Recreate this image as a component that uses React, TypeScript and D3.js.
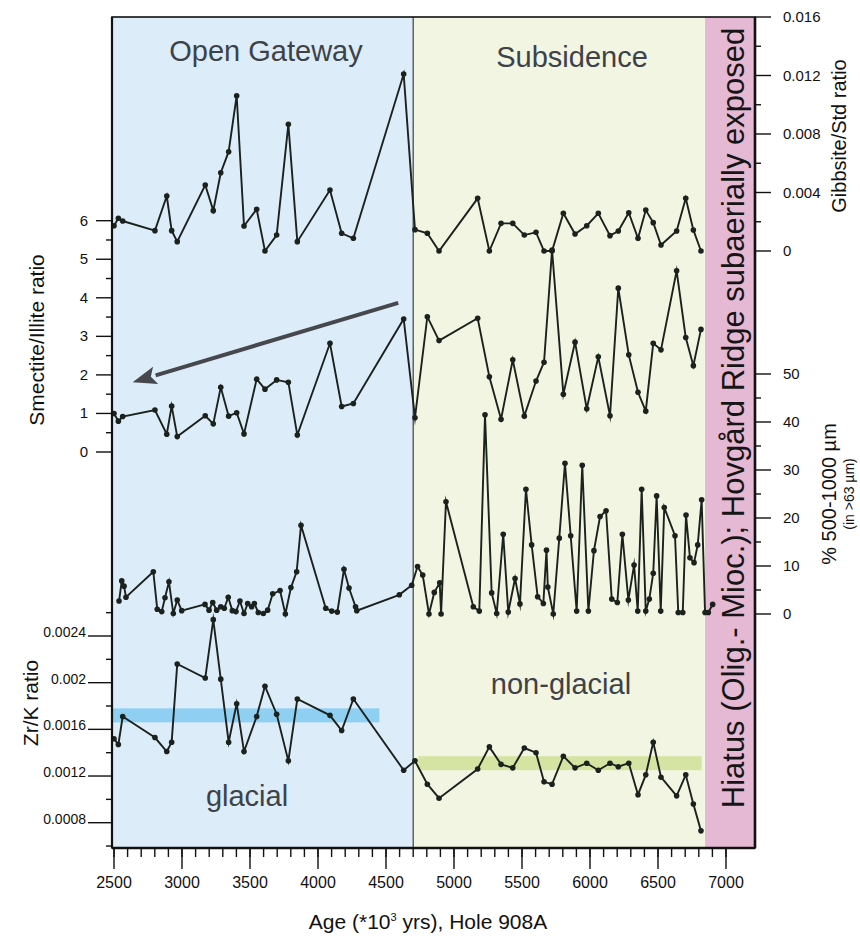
import React from "react";
import * as d3 from "d3";

// Sample ages (ka) shared by the clay-mineral and XRF records
const ages = [
  2500, 2532, 2564, 2801, 2888, 2924, 2965, 3171, 3230, 3285, 3343, 3402, 3456, 3549, 3610, 3696,
  3782, 3848, 4088, 4174, 4260, 4630, 4713, 4804, 4890, 5174, 5260, 5346, 5432, 5517, 5603, 5662,
  5721, 5804, 5890, 5976, 6061, 6147, 6208, 6285, 6353, 6410, 6465, 6522, 6637, 6704, 6760, 6816,
];

const gibbsiteStd = [
  0.00173, 0.00224, 0.00205, 0.00139, 0.00376, 0.00139, 0.00064, 0.00451, 0.00276, 0.00535, 0.00679,
  0.01062, 0.00171, 0.00285, 0.0, 0.00109, 0.00866, 0.00064, 0.00417, 0.00121, 0.00087, 0.0121,
  0.00146, 0.00121, 0.0, 0.0036, 0.0, 0.00189, 0.00189, 0.00109, 0.00128, 0.0, 0.0, 0.00258, 0.00116,
  0.00173, 0.00258, 0.00105, 0.00137, 0.00262, 0.00087, 0.0028, 0.00194, 0.00041, 0.00137, 0.0036,
  0.00144, 0.0,
];

const smectiteIllite = [
  1.0, 0.8, 0.92, 1.09, 0.46, 1.19, 0.4, 0.94, 0.73, 1.68, 0.93, 1.02, 0.47, 1.89, 1.63, 1.87, 1.81,
  0.44, 2.82, 1.18, 1.26, 3.45, 0.89, 3.51, 2.89, 3.47, 1.95, 0.85, 2.39, 0.93, 1.84, 2.33, 5.24, 1.5,
  2.85, 1.12, 2.47, 0.94, 4.25, 2.52, 1.55, 1.06, 2.82, 2.65, 4.7, 2.97, 2.24, 3.18,
];

const zrK = [
  0.00152, 0.00147, 0.00171, 0.00153, 0.00141, 0.00149, 0.00216, 0.00204, 0.00254, 0.00203, 0.00149,
  0.00182, 0.00141, 0.00171, 0.00197, 0.00173, 0.00133, 0.00186, 0.00172, 0.00159, 0.00186, 0.00125,
  0.00133, 0.00113, 0.00101, 0.00126, 0.00145, 0.0013, 0.00127, 0.00144, 0.0014, 0.00115, 0.00113,
  0.00137, 0.00127, 0.00131, 0.00125, 0.00131, 0.00128, 0.00131, 0.00104, 0.00121, 0.00149, 0.00119,
  0.00103, 0.00121, 0.00096, 0.00073,
];

// Coarse fraction (500-1000 µm, % of >63 µm) on its own, denser age grid
const coarseAges = [
  2537, 2557, 2574, 2588, 2789, 2818, 2851, 2875, 2904, 2936, 2965, 2998, 3169, 3199, 3226, 3255,
  3285, 3311, 3340, 3370, 3397, 3426, 3456, 3483, 3512, 3532, 3561, 3598, 3630, 3667, 3721, 3760,
  3801, 3843, 3875, 4057, 4101, 4142, 4191, 4228, 4276, 4285, 4598, 4689, 4732, 4770, 4816, 4855,
  4895, 4905, 4941, 5142, 5186, 5228, 5277, 5314, 5362, 5399, 5449, 5485, 5529, 5571, 5615, 5657,
  5680, 5690, 5730, 5774, 5816, 5858, 5902, 5943, 5988, 6029, 6074, 6118, 6160, 6201, 6238, 6282,
  6324, 6351, 6380, 6410, 6436, 6465, 6490, 6520, 6546, 6625, 6649, 6682, 6706, 6735, 6765, 6792,
  6821, 6846, 6870, 6902,
];
const coarsePct = [
  2.7, 6.9, 5.8, 3.5, 8.8, 1.0, 0.5, 3.4, 6.7, 0.1, 2.9, 0.7, 2.0, 0.8, 2.4, 0.8, 1.5, 1.2, 3.5, 0.7,
  0.5, 2.7, 0.1, 2.2, 1.5, 2.2, 0.3, 0.1, 0.8, 4.2, 4.9, 0.0, 5.5, 8.8, 18.5, 1.2, 0.6, 0.4, 9.3, 5.4,
  1.5, 0.7, 4.0, 6.0, 9.9, 8.1, 0.0, 4.5, 6.5, 0.0, 23.4, 1.5, 0.6, 41.5, 4.4, 0.1, 16.6, 0.4, 7.4, 2.1,
  26.0, 14.4, 3.6, 2.2, 13.3, 5.6, 0.0, 15.8, 31.4, 16.3, 0.6, 31.0, 0.6, 13.2, 20.3, 21.5, 3.1, 2.4,
  16.6, 2.9, 10.2, 0.6, 26.0, 0.6, 3.1, 8.5, 24.6, 0.6, 22.2, 16.3, 0.3, 0.3, 20.6, 11.7, 10.7, 14.4,
  23.8, 0.3, 0.3, 2.0,
];

// Mean Zr/K bands: [startAge, endAge, low, high]
const glacialBand = [2500, 4451, 0.00166, 0.00178];
const nonGlacialBand = [4737, 6821, 0.00125, 0.00137];

// Interval boundaries (ka)
const gatewayEnd = 4700;
const hiatusStart = 6846;

// Trend arrow on the smectite/illite record: [age, ratio] from tail to head
const trendArrow = [
  [4590, 3.87],
  [2637, 1.81],
];

const xTicksMajor = d3.range(2500, 7001, 500);
const xTicksMinor = d3.range(2500, 7001, 100);
const smeTicks = [0, 1, 2, 3, 4, 5, 6];
const zrTicks = [0.0008, 0.0012, 0.0016, 0.002, 0.0024];
const zrTickLabels = ["0.0008", "0.0012", "0.0016", "0.002", "0.0024"];
const gibTicks = [0, 0.004, 0.008, 0.012, 0.016];
const gibTickLabels = ["0", "0.004", "0.008", "0.012", "0.016"];
const pctTicks = [0, 10, 20, 30, 40, 50];

const W = 860;
const H = 943;
const F = { left: 112, right: 755, top: 17, bottom: 848 };
const INK = "#1b211d";
const SANS = "'Liberation Sans', Arial, Helvetica, sans-serif";

const x = d3.scaleLinear().domain([2500, 7000]).range([114, 726]);
const yGib = d3.scaleLinear().domain([0, 0.016]).range([251, 17]);
const ySme = d3.scaleLinear().domain([0, 6]).range([452, 220.7]);
const yPct = d3.scaleLinear().domain([0, 50]).range([614, 374]);
const yZr = d3.scaleLinear().domain([0.0008, 0.0024]).range([822.7, 636]);

function Series({ xs, ys, y }: { xs: number[]; ys: number[]; y: d3.ScaleLinear<number, number> }) {
  const pts: [number, number][] = xs.map((a, i) => [a, ys[i]]);
  const line = d3
    .line<[number, number]>()
    .x((d) => x(d[0]))
    .y((d) => y(d[1]));
  return (
    <g>
      <path
        d={line(pts) || ""}
        fill="none"
        stroke={INK}
        strokeWidth={1.9}
        strokeLinejoin="miter"
        strokeMiterlimit={9}
      />
      {pts.map((d, i) => (
        <circle key={i} cx={x(d[0])} cy={y(d[1])} r={2.8} fill={INK} />
      ))}
    </g>
  );
}

function halfSteps(ticks: number[]) {
  const out: number[] = [];
  for (let i = 0; i < ticks.length - 1; i++) out.push((ticks[i] + ticks[i + 1]) / 2);
  return out;
}

function VTitle({ x0, y0, size, children }: { x0: number; y0: number; size: number; children: React.ReactNode }) {
  return (
    <text transform={`translate(${x0},${y0}) rotate(-90)`} textAnchor="middle" fontSize={size} fill="#111">
      {children}
    </text>
  );
}

export default function App() {
  const xGate = x(gatewayEnd);
  const xHiatus = x(hiatusStart);

  const [a0, a1] = trendArrow;
  const ax0 = x(a0[0]);
  const ay0 = ySme(a0[1]);
  const ax1 = x(a1[0]);
  const ay1 = ySme(a1[1]);
  const ang = Math.atan2(ay1 - ay0, ax1 - ax0);
  const headLen = 24;
  const headHalf = 9;
  const bx = ax1 - headLen * Math.cos(ang);
  const by = ay1 - headLen * Math.sin(ang);
  const px = -Math.sin(ang);
  const py = Math.cos(ang);
  const head = `M${ax1},${ay1}L${bx + headHalf * px},${by + headHalf * py}L${bx + 5 * Math.cos(ang)},${by + 5 * Math.sin(ang)}L${bx - headHalf * px},${by - headHalf * py}Z`;

  const zrMinor = [0.0006, 0.001, 0.0014, 0.0018, 0.0022, 0.0026];

  return (
    <svg
      width={W}
      height={H}
      viewBox={`0 0 ${W} ${H}`}
      style={{ display: "block", position: "absolute", left: 0, top: 0 }}
      fontFamily={SANS}
    >
      <rect x={0} y={0} width={W} height={H} fill="#ffffff" />

      {/* interval backgrounds */}
      <rect x={F.left} y={F.top} width={xGate - F.left} height={F.bottom - F.top} fill="#dcecf9" />
      <rect x={xGate} y={F.top} width={xHiatus - xGate} height={F.bottom - F.top} fill="#f1f5e2" />
      <rect x={xHiatus} y={F.top} width={F.right - xHiatus} height={F.bottom - F.top} fill="#e5b8d3" />
      <line x1={xGate} x2={xGate} y1={F.top} y2={F.bottom} stroke="#3b3f44" strokeWidth={1.2} />

      {/* mean Zr/K bands */}
      <rect
        x={F.left}
        y={yZr(glacialBand[3])}
        width={x(glacialBand[1]) - F.left}
        height={yZr(glacialBand[2]) - yZr(glacialBand[3])}
        fill="#8ecff2"
      />
      <rect
        x={x(nonGlacialBand[0])}
        y={yZr(nonGlacialBand[3])}
        width={x(nonGlacialBand[1]) - x(nonGlacialBand[0])}
        height={yZr(nonGlacialBand[2]) - yZr(nonGlacialBand[3])}
        fill="#d6e4a3"
      />

      {/* interval labels */}
      <g fill="#3d4248" fontSize={29}>
        <text x={266} y={61} textAnchor="middle">Open Gateway</text>
        <text x={572} y={67} textAnchor="middle">Subsidence</text>
        <text x={561} y={694} textAnchor="middle">non-glacial</text>
        <text x={247} y={806} textAnchor="middle">glacial</text>
      </g>
      <text
        transform={`translate(744,418) rotate(-90)`}
        textAnchor="middle"
        fontSize={31}
        fill="#151515"
      >
        Hiatus (Olig.- Mioc.); Hovgård Ridge subaerially exposed
      </text>

      {/* trend arrow */}
      <line x1={ax0} y1={ay0} x2={bx} y2={by} stroke="#47484e" strokeWidth={4} />
      <path d={head} fill="#47484e" />

      {/* records */}
      <Series xs={ages} ys={gibbsiteStd} y={yGib} />
      <Series xs={ages} ys={smectiteIllite} y={ySme} />
      <Series xs={coarseAges} ys={coarsePct} y={yPct} />
      <Series xs={ages} ys={zrK} y={yZr} />

      {/* frame */}
      <rect
        x={F.left}
        y={F.top}
        width={F.right - F.left}
        height={F.bottom - F.top}
        fill="none"
        stroke="#111"
        strokeWidth={1.6}
      />
      <line x1={F.right} x2={F.right} y1={F.top} y2={F.bottom} stroke="#111" strokeWidth={2.6} />
      <line x1={F.left} x2={F.left} y1={F.top} y2={F.bottom} stroke="#111" strokeWidth={2.2} />
      <line x1={F.left} x2={F.right} y1={F.bottom} y2={F.bottom} stroke="#111" strokeWidth={2.4} />

      {/* x axis */}
      <g stroke="#111" strokeWidth={1.4}>
        {xTicksMinor.map((t) => (
          <line key={`xm${t}`} x1={x(t)} x2={x(t)} y1={F.bottom} y2={F.bottom + 9} />
        ))}
        {xTicksMajor.map((t) => (
          <line key={`xM${t}`} x1={x(t)} x2={x(t)} y1={F.bottom} y2={F.bottom + 21} />
        ))}
      </g>
      <g fontSize={16} fill="#111" textAnchor="middle">
        {xTicksMajor.map((t) => (
          <text key={`xl${t}`} x={x(t)} y={888}>
            {t}
          </text>
        ))}
      </g>
      <text x={428} y={929} textAnchor="middle" fontSize={21} fill="#111">
        Age (*10
        <tspan dy={-8} fontSize={11}>
          3
        </tspan>
        <tspan dy={8}> yrs), Hole 908A</tspan>
      </text>

      {/* left axis: smectite/illite */}
      <g stroke="#111" strokeWidth={1.4}>
        {halfSteps(smeTicks).map((t) => (
          <line key={`sm${t}`} x1={F.left - 6} x2={F.left} y1={ySme(t)} y2={ySme(t)} />
        ))}
        {smeTicks.map((t) => (
          <line key={`sM${t}`} x1={F.left - 16} x2={F.left} y1={ySme(t)} y2={ySme(t)} />
        ))}
      </g>
      <g fontSize={15} fill="#111" textAnchor="end">
        {smeTicks.map((t) => (
          <text key={`sl${t}`} x={88} y={ySme(t) + 5}>
            {t}
          </text>
        ))}
      </g>
      <VTitle x0={44} y0={340} size={21}>
        Smectite/Illite ratio
      </VTitle>

      {/* left axis: Zr/K */}
      <g stroke="#111" strokeWidth={1.4}>
        {zrMinor.map((t) => (
          <line key={`zm${t}`} x1={F.left - 6} x2={F.left} y1={yZr(t)} y2={yZr(t)} />
        ))}
        {zrTicks.map((t) => (
          <line key={`zM${t}`} x1={F.left - 24} x2={F.left} y1={yZr(t)} y2={yZr(t)} />
        ))}
      </g>
      <g fontSize={14} fill="#111" textAnchor="end">
        {zrTicks.map((t, i) => (
          <text key={`zl${t}`} x={86} y={yZr(t) + 1}>
            {zrTickLabels[i]}
          </text>
        ))}
      </g>
      <VTitle x0={38} y0={703} size={21}>
        Zr/K ratio
      </VTitle>

      {/* right axis: gibbsite/std */}
      <g stroke="#111" strokeWidth={1.4}>
        {halfSteps(gibTicks).map((t) => (
          <line key={`gm${t}`} x1={F.right} x2={F.right + 6} y1={yGib(t)} y2={yGib(t)} />
        ))}
        {gibTicks.map((t) => (
          <line key={`gM${t}`} x1={F.right} x2={F.right + 16} y1={yGib(t)} y2={yGib(t)} />
        ))}
      </g>
      <g fontSize={15} fill="#111" textAnchor="start">
        {gibTicks.map((t, i) => (
          <text key={`gl${t}`} x={783} y={yGib(t) + 5}>
            {gibTickLabels[i]}
          </text>
        ))}
      </g>
      <VTitle x0={846} y0={136} size={20}>
        Gibbsite/Std ratio
      </VTitle>

      {/* right axis: coarse fraction */}
      <g stroke="#111" strokeWidth={1.4}>
        {halfSteps(pctTicks).map((t) => (
          <line key={`pm${t}`} x1={F.right} x2={F.right + 6} y1={yPct(t)} y2={yPct(t)} />
        ))}
        {pctTicks.map((t) => (
          <line key={`pM${t}`} x1={F.right} x2={F.right + 16} y1={yPct(t)} y2={yPct(t)} />
        ))}
      </g>
      <g fontSize={15} fill="#111" textAnchor="start">
        {pctTicks.map((t) => (
          <text key={`pl${t}`} x={783} y={yPct(t) + 5}>
            {t}
          </text>
        ))}
      </g>
      <VTitle x0={836} y0={494} size={20}>
        % 500-1000 µm
      </VTitle>
      <VTitle x0={854} y0={494} size={14}>
        (in &gt;63 µm)
      </VTitle>
    </svg>
  );
}
